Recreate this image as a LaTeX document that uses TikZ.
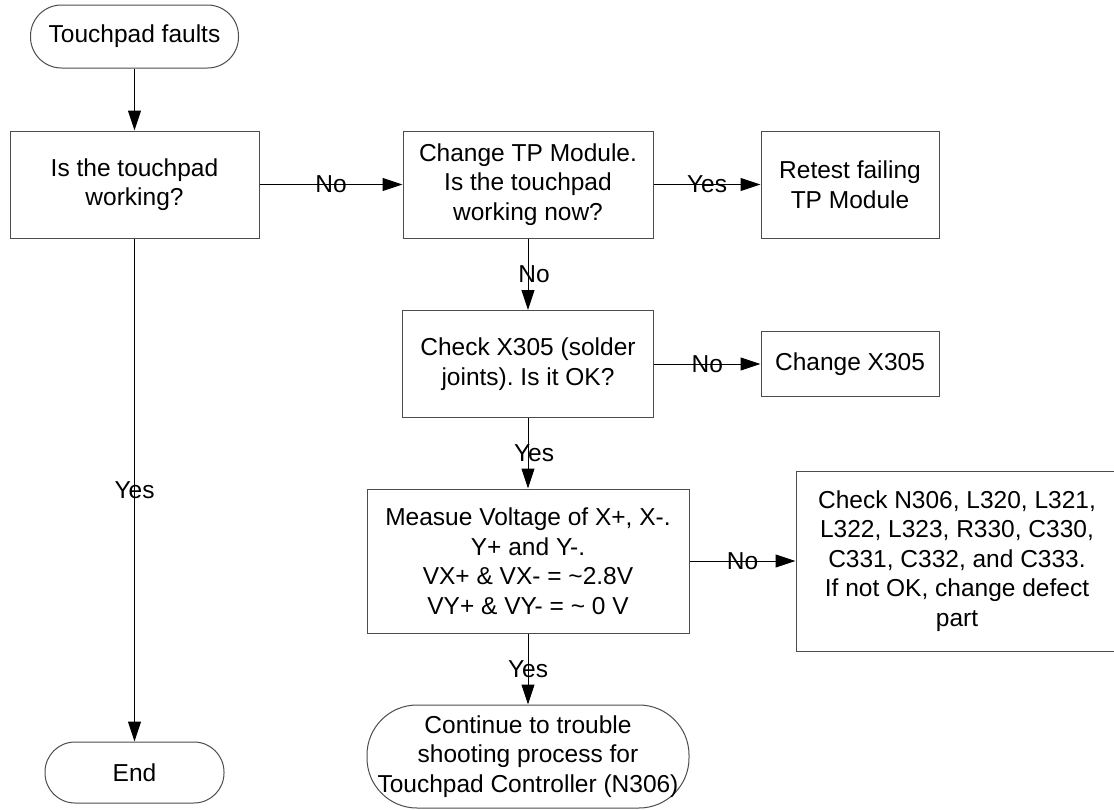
\documentclass[tikz,border=0pt]{standalone}
\usepackage{fontspec}
\setmainfont{Liberation Sans}
\usetikzlibrary{arrows.meta}
\frenchspacing

\newcommand{\chartfont}{\fontsize{24.5}{29.5}\selectfont}

\tikzset{
  procbox/.style={draw=black!70, line width=1pt, align=center, inner sep=0pt, font=\chartfont},
  termbox/.style={procbox, rounded corners=#1},
  lbl/.style={font=\chartfont, inner sep=0pt},
}

\begin{document}
\begin{tikzpicture}[x=1pt, y=-1pt, >={Triangle[length=20pt,width=13pt]}, line width=1pt]
    \useasboundingbox (0,0) rectangle (1114,809);

    \node[termbox=31pt, minimum width=208pt, minimum height=63pt] (start) at (134.5,36.5) {Touchpad faults};
    \node[procbox, minimum width=249pt, minimum height=107pt] (working) at (134.5,184.5) {Is the touchpad\\working?};
    \node[procbox, minimum width=250pt, minimum height=107pt] (changetp) at (528,184.5) {Change TP Module.\\Is the touchpad\\working now?};
    \node[procbox, minimum width=178pt, minimum height=107pt] (retest) at (850,184.5) {Retest failing\\TP Module};
    \node[procbox, minimum width=251pt, minimum height=107pt] (checkx) at (528,364) {Check X305 (solder\\joints). Is it OK?};
    \node[procbox, minimum width=178pt, minimum height=65pt] (changex) at (850,364) {Change X305};
    \node[procbox, minimum width=322pt, minimum height=144pt] (measure) at (528,561) {Measue Voltage of X+, X-.\\Y+ and Y-.\\VX+ \& VX- = \textasciitilde2.8V\\VY+ \& VY- = \textasciitilde{} 0 V};
    \node[procbox, minimum width=322pt, minimum height=180pt] (checkn) at (957,561) {Check N306, L320, L321,\\L322, L323, R330, C330,\\C331, C332, and C333.\\If not OK, change defect\\part};
    \node[termbox=50pt, minimum width=322pt, minimum height=103pt] (cont) at (528,756.5) {Continue to trouble\\shooting process for\\Touchpad Controller (N306)};
    \node[termbox=30pt, minimum width=179pt, minimum height=61pt] (finish) at (134.5,772.5) {End};

    \draw[->] (start) -- (working);
    \draw[->] (working) -- node[lbl] {No} (changetp);
    \draw[->] (changetp) -- node[lbl] {Yes} (retest);
    \draw[->] (changetp) -- node[lbl, xshift=6pt] {No} (checkx);
    \draw[->] (checkx) -- node[lbl] {No} (changex);
    \draw[->] (checkx) -- node[lbl, xshift=6pt] {Yes} (measure);
    \draw[->] (measure) -- node[lbl] {No} (checkn);
    \draw[->] (measure) -- node[lbl] {Yes} (cont);
    \draw[->] (working) -- node[lbl] {Yes} (finish);
\end{tikzpicture}
\end{document}
